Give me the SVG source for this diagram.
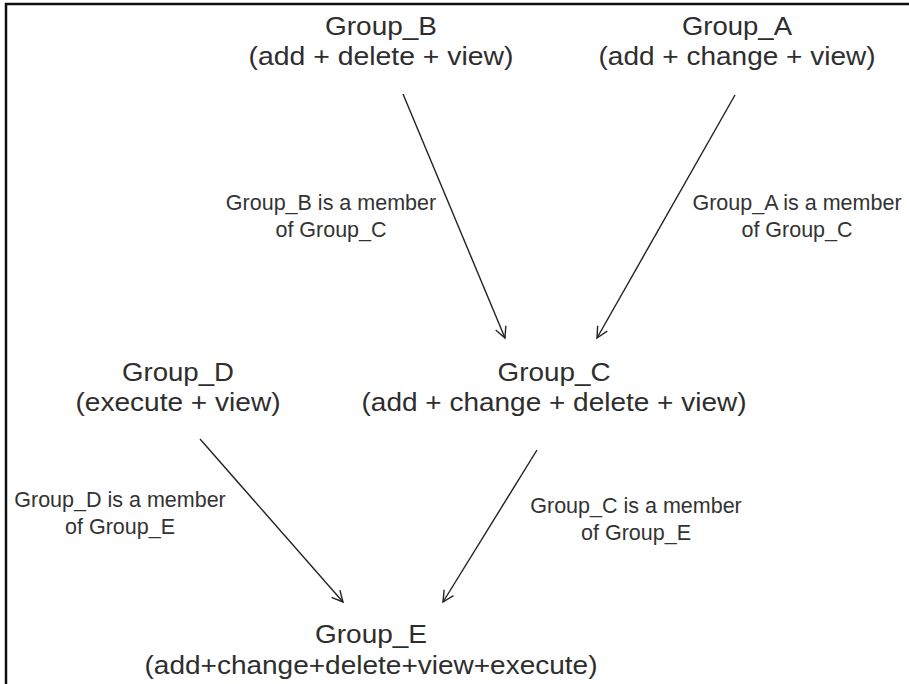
<svg xmlns="http://www.w3.org/2000/svg" width="909" height="684" viewBox="0 0 909 684">
  <style>
    .node { font-family: "Liberation Sans", Arial, sans-serif; font-size: 26px; fill: #2e2e2e; text-anchor: middle; }
    .lbl { font-family: "Liberation Sans", Arial, sans-serif; font-size: 21.5px; fill: #333333; text-anchor: middle; }
    .edge { stroke: #222222; stroke-width: 1.4; fill: none; }
    .frame { stroke: #111111; stroke-width: 2.5; fill: none; }
  </style>
  <defs>
    <marker id="arr" markerWidth="14" markerHeight="14" refX="12" refY="6.5" orient="auto" markerUnits="userSpaceOnUse">
      <path d="M1,1 L12,6.5 L1,12" fill="none" stroke="#222222" stroke-width="1.4"/>
    </marker>
  </defs>
  <rect x="0" y="0" width="909" height="684" fill="#ffffff"/>
  <path class="frame" d="M6,684 L6,4 L909,4"/>

  <g id="connectors">
    <line class="edge" x1="403" y1="94" x2="505" y2="338" marker-end="url(#arr)"/>
    <line class="edge" x1="735" y1="95" x2="597" y2="338" marker-end="url(#arr)"/>
    <line class="edge" x1="200" y1="439" x2="343" y2="602" marker-end="url(#arr)"/>
    <line class="edge" x1="537" y1="450" x2="443" y2="602" marker-end="url(#arr)"/>
    <text class="lbl" x="331" y="210">Group_B is a member</text>
    <text class="lbl" x="331" y="237">of Group_C</text>
    <text class="lbl" x="797" y="210">Group_A is a member</text>
    <text class="lbl" x="797" y="237">of Group_C</text>
    <text class="lbl" x="120" y="507">Group_D is a member</text>
    <text class="lbl" x="120" y="534">of Group_E</text>
    <text class="lbl" x="636" y="513">Group_C is a member</text>
    <text class="lbl" x="636" y="540">of Group_E</text>
  </g>

  <g id="group_b">
    <text class="node" x="381" y="35" textLength="112" lengthAdjust="spacingAndGlyphs">Group_B</text>
    <text class="node" x="381" y="65" textLength="265" lengthAdjust="spacingAndGlyphs">(add + delete + view)</text>
  </g>
  <g id="group_a">
    <text class="node" x="737" y="35" textLength="110" lengthAdjust="spacingAndGlyphs">Group_A</text>
    <text class="node" x="737" y="65" textLength="277" lengthAdjust="spacingAndGlyphs">(add + change + view)</text>
  </g>
  <g id="group_c">
    <text class="node" x="554" y="381" textLength="113" lengthAdjust="spacingAndGlyphs">Group_C</text>
    <text class="node" x="554" y="411" textLength="385" lengthAdjust="spacingAndGlyphs">(add + change + delete + view)</text>
  </g>
  <g id="group_d">
    <text class="node" x="178" y="381" textLength="112" lengthAdjust="spacingAndGlyphs">Group_D</text>
    <text class="node" x="178" y="411" textLength="205" lengthAdjust="spacingAndGlyphs">(execute + view)</text>
  </g>
  <g id="group_e">
    <text class="node" x="371" y="643" textLength="112" lengthAdjust="spacingAndGlyphs">Group_E</text>
    <text class="node" x="371" y="674" textLength="453" lengthAdjust="spacingAndGlyphs">(add+change+delete+view+execute)</text>
  </g>
</svg>
